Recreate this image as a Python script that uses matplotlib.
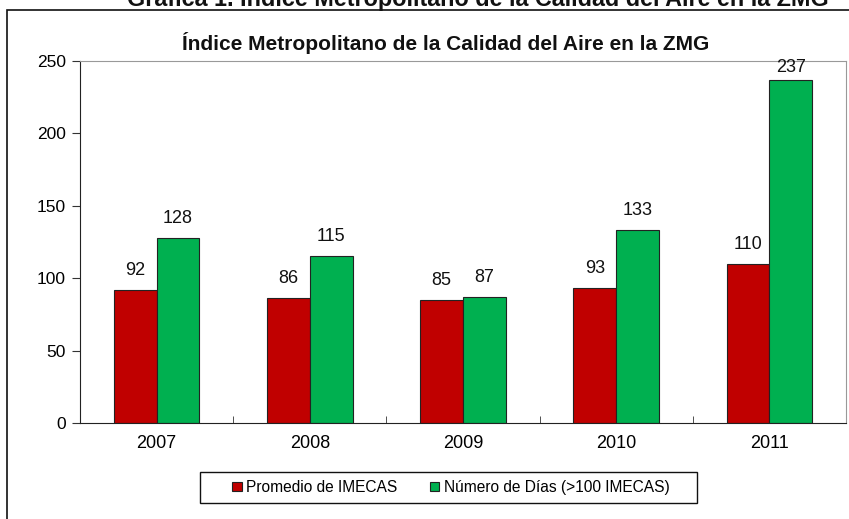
import matplotlib
matplotlib.use("Agg")
from matplotlib import pyplot as plt
from matplotlib.patches import Rectangle
import numpy as np

plt.rcParams['font.family'] = ['Liberation Sans', 'DejaVu Sans']

years = ['2007', '2008', '2009', '2010', '2011']
promedio = [92, 86, 85, 93, 110]
dias = [128, 115, 87, 133, 237]

rojo = '#C00000'
verde = '#00B050'

fig = plt.figure(figsize=(8.49, 5.19), dpi=100)
ax = fig.add_axes([80/849, 1-423/519, 766/849, 362/519])

x = np.arange(len(years))
w = 0.28
b1 = ax.bar(x - w/2, promedio, w, color=rojo, edgecolor='#222222', linewidth=0.8, label='Promedio de IMECAS', zorder=2)
b2 = ax.bar(x + w/2, dias, w, color=verde, edgecolor='#222222', linewidth=0.8, label='Número de Días (>100 IMECAS)', zorder=2)

for bars, vals in ((b1, promedio), (b2, dias)):
	for r, v in zip(bars, vals):
		off = 8 if v < 225 else 3
		ax.annotate(str(v), xy=(r.get_x() + r.get_width()/2, v), xytext=(0, off),
			textcoords='offset points', ha='center', va='bottom', fontsize=13, color='#111111')

ax.set_xlim(-0.5, len(years) - 0.5)
ax.set_ylim(0, 250)
ax.set_yticks(np.arange(0, 251, 50))
ax.set_xticks(x)
ax.set_xticklabels(years, fontsize=13)
ax.set_xticks(np.arange(-0.5, len(years), 1), minor=True)
ax.tick_params(axis='x', which='major', length=0, pad=9)
ax.tick_params(axis='x', which='minor', length=5, direction='in', color='#333333')
ax.tick_params(axis='y', length=6, direction='out', labelsize=12.5, pad=4, color='#333333')

ax.spines['left'].set_color('#222222')
ax.spines['bottom'].set_color('#222222')
ax.spines['top'].set_color('#999999')
ax.spines['right'].set_color('#999999')

fig.text(446/849, 1-43/519, 'Índice Metropolitano de la Calidad del Aire en la ZMG',
	ha='center', va='center', fontsize=15, fontweight='bold', color='#111111')

# titulo de la pagina, cortado arriba como en la imagen
fig.text(478/849, 1-6/519, 'Gráfica 1. Índice Metropolitano de la Calidad del Aire en la ZMG',
	ha='center', va='baseline', fontsize=16.8, fontweight='bold', color='#111111')

# marco exterior
fig.patches.append(Rectangle((7/849, -0.1), 1.2, 1.1 - 10/519, transform=fig.transFigure,
	fill=False, edgecolor='#111111', linewidth=1.2))

# leyenda con marco propio (mas ancho que el del texto)
leg = fig.legend(loc='center', bbox_to_anchor=(451/849, 1-487.5/519), ncol=2, fontsize=11.2,
	frameon=False, handlelength=0.6, handleheight=0.6,
	handletextpad=0.3, columnspacing=2.1, borderpad=0, borderaxespad=0)
fig.patches.append(Rectangle((200/849, 1-503/519), 497/849, 31/519, transform=fig.transFigure,
	fill=False, edgecolor='#111111', linewidth=1.0))

fig.savefig('out.png', dpi=100)
